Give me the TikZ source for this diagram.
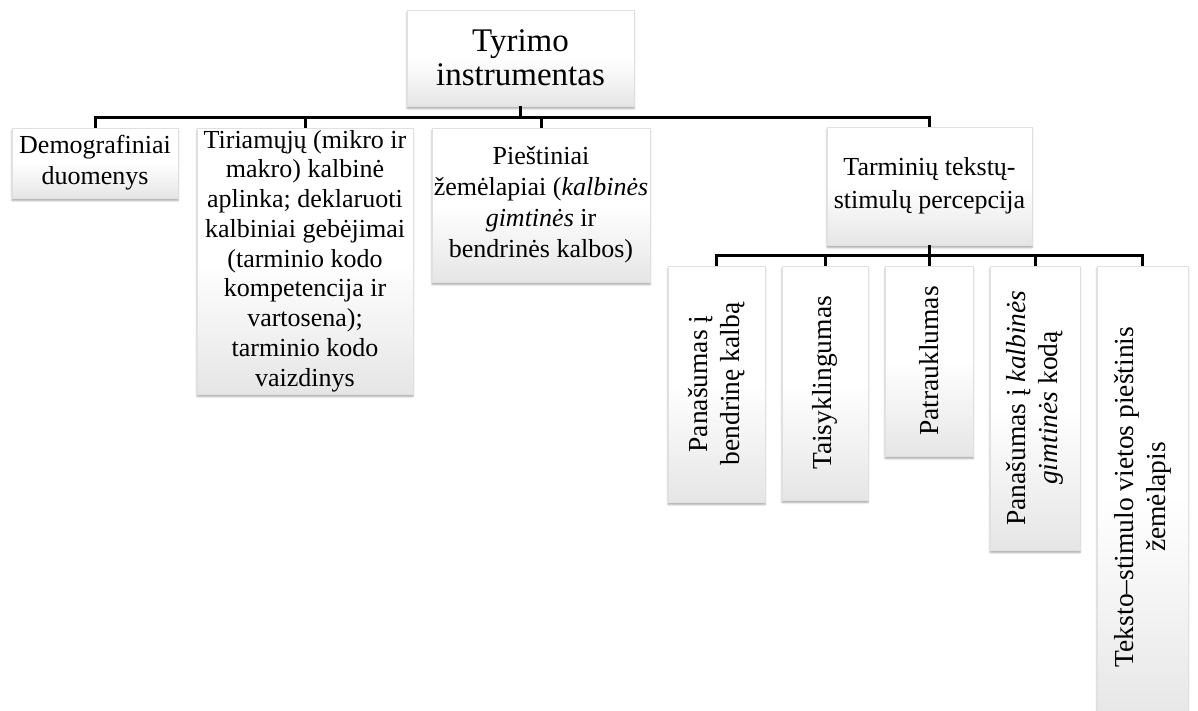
\documentclass[tikz,border=0pt]{standalone}
\usepackage{fontspec}
\setmainfont{Liberation Serif}
\usetikzlibrary{shadows.blur}

\tikzset{
  box/.style={draw=black!12, line width=0.6pt, inner sep=0pt, align=center,
    top color=white, bottom color=black!10, middle color=white,
    blur shadow={shadow xshift=0pt, shadow yshift=-2.5pt, shadow blur steps=6, shadow opacity=35},
    font=\fontsize{26}{31}\selectfont},
  vbox/.style={box, rotate=90, font=\fontsize{27.5}{32}\selectfont},
  conn/.style={line width=3pt}
}

\begin{document}
\begin{tikzpicture}[x=1pt,y=1pt]
    \useasboundingbox (0,0) rectangle (1198,-710);
    \node[box, minimum width=227, minimum height=96, font=\fontsize{33}{34}\selectfont] (root) at (520.5,-58) {Tyrimo\\instrumentas};
    \node[box, minimum width=166, minimum height=70] (demo) at (95,-163) {Demografiniai\\duomenys};
    \node[box, minimum width=216, minimum height=266, font=\fontsize{26}{29.75}\selectfont] (tiri) at (305,-261)
        {Tiriamųjų (mikro ir\\makro) kalbinė\\aplinka; deklaruoti\\kalbiniai gebėjimai\\(tarminio kodo\\kompetencija ir\\vartosena);\\tarminio kodo\\vaizdinys};
    \node[box, minimum width=218, minimum height=154] (pies) at (541,-205)
        {Pieštiniai\\žemėlapiai (\textit{kalbinės}\\\textit{gimtinės} ir\\bendrinės kalbos)};
    \node[box, minimum width=205, minimum height=118, font=\fontsize{26}{33}\selectfont] (tarm) at (929.5,-186) {Tarminių tekstų-\\stimulų percepcija};

    \node[vbox, minimum width=236, minimum height=97] (bendr) at (716.5,-384) {Panašumas į\\bendrinę kalbą};
    \node[vbox, minimum width=234, minimum height=86] (taisy) at (825,-383) {Taisyklingumas};
    \node[vbox, minimum width=190, minimum height=88] (patr) at (929,-361) {Patrauklumas};
    \node[vbox, minimum width=284, minimum height=90] (gimt) at (1035,-408) {Panašumas į \textit{kalbinės}\\\textit{gimtinės} kodą};
    \node[vbox, minimum width=462, minimum height=91] (zeml) at (1142.5,-497) {Teksto–stimulo vietos pieštinis\\žemėlapis};

    \foreach \n in {demo,tiri,pies,tarm}
        \draw[conn] (root.south) -- ++(0,-11) -| (\n.north);
    \foreach \n in {bendr,taisy,patr,gimt,zeml}
        \draw[conn] (tarm.south) -- ++(0,-10) -| (\n.east);
\end{tikzpicture}
\end{document}
